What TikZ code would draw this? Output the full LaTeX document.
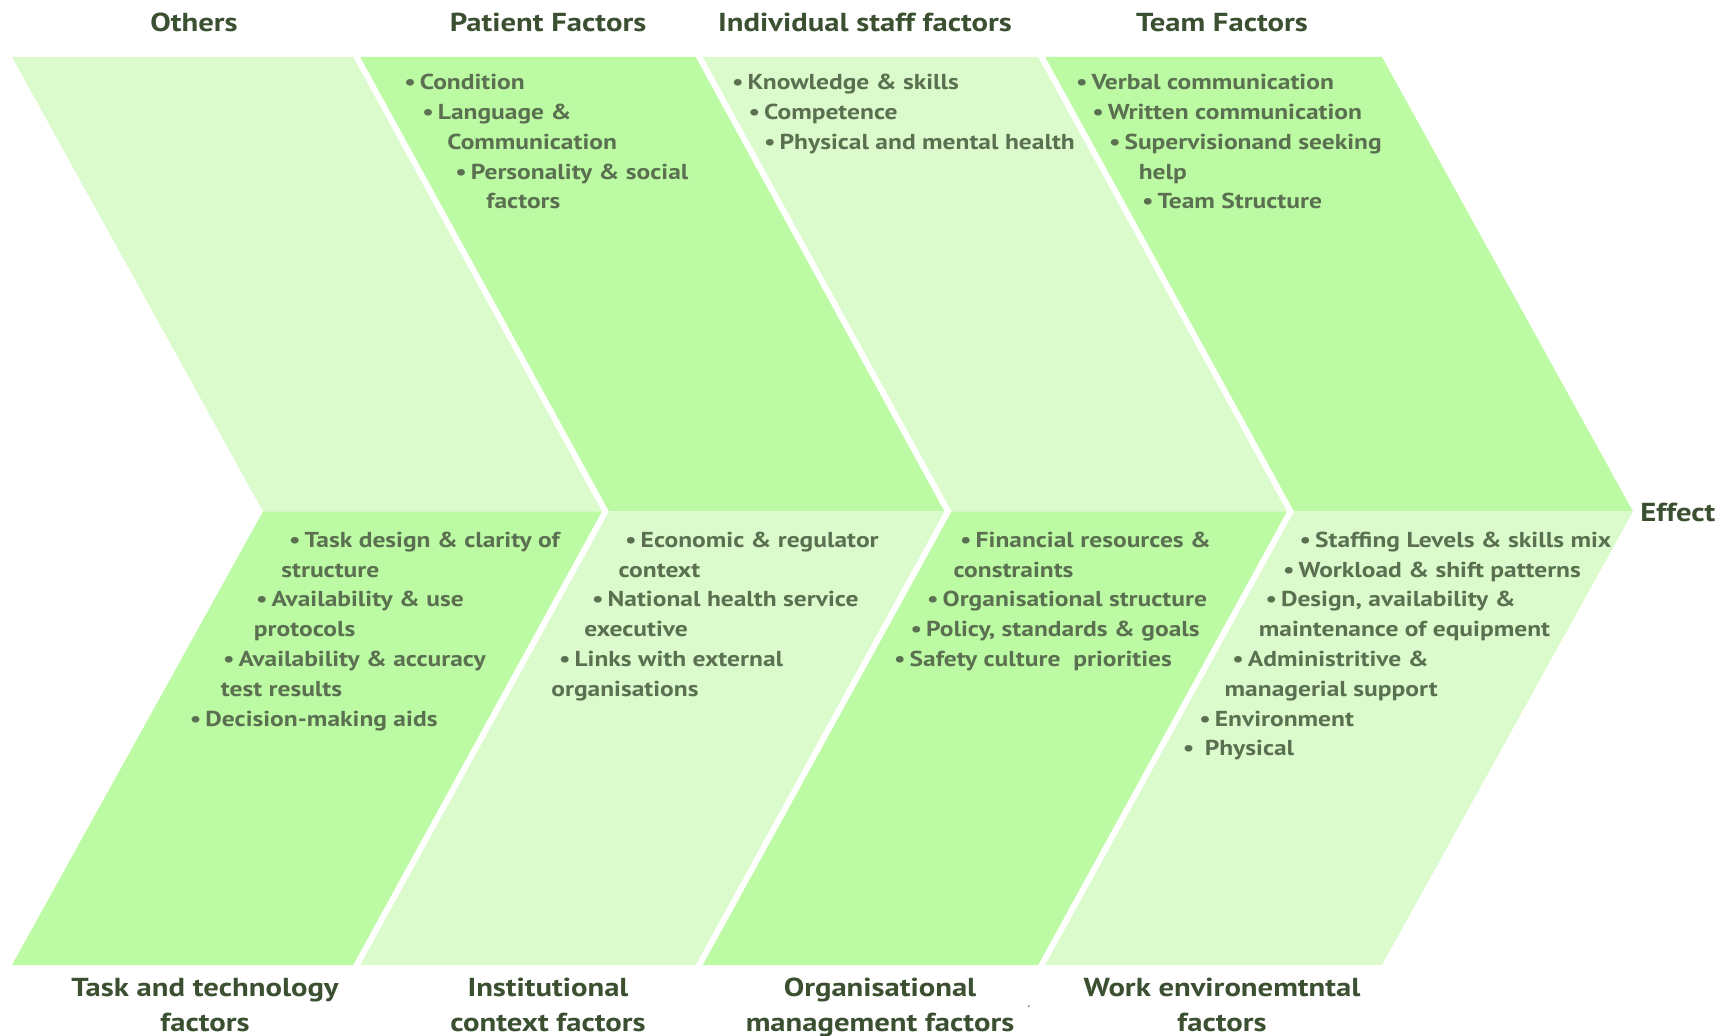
\documentclass[tikz,border=0pt]{standalone}
\usepackage{fontspec}
\setmainfont[FakeStretch=1.18]{PT Sans}
\definecolor{lightg}{RGB}{220,251,204}
\definecolor{darkg}{RGB}{188,250,163}
\definecolor{txt}{RGB}{90,112,80}
\definecolor{head}{RGB}{58,80,48}
\newcommand{\bul}{•\hspace{2pt}}
\begin{document}
\begin{tikzpicture}[x=0.5pt,y=-0.5pt,
  item/.style={anchor=base west, inner sep=0pt, font=\bfseries\fontsize{10.8}{13}\selectfont, text=txt},
  heading/.style={anchor=base, inner sep=0pt, font=\bfseries\fontsize{13}{17}\selectfont, text=head},
  botlabel/.style={anchor=base, inner sep=0pt, align=center, font=\bfseries\fontsize{13}{17}\selectfont, text=head},
  sep/.style={draw=white, line width=3pt, line join=miter}]
\useasboundingbox (0,0) rectangle (1728,1036);
% shapes
\def\yT{57}\def\yM{511.5}\def\yB{965}\def\dd{251}\def\ww{342.5}
\foreach \k/\ct/\cb in {0/lightg/darkg,1/darkg/lightg,2/lightg/darkg,3/darkg/lightg}{
  \pgfmathsetmacro\xl{12+\ww*\k}
  \fill[\ct] (\xl,\yT) -- ++(\ww,0) -- ++(\dd,\yM-\yT) -- ++(-\ww,0) -- cycle;
  \fill[\cb] (\xl+\dd,\yM) -- ++(\ww,0) -- ++(-\dd,\yB-\yM) -- ++(-\ww,0) -- cycle;
}
\foreach \k in {1,2,3}{
  \pgfmathsetmacro\xl{12+\ww*\k}
  \draw[sep] (\xl,\yT-4) -- (\xl+\dd,\yM) -- (\xl,\yB+4);
}
% headings
\node[heading] (hOthers) at (194,31.7) {Others};
\node[heading] (hPatient) at (548,31.7) {Patient Factors};
\node[heading] (hIndiv) at (865,31.7) {Individual staff factors};
\node[heading] (hTeam) at (1222,31.7) {Team Factors};
\node[heading, anchor=base west] (hEffect) at (1640,521.7) {Effect};
\node[botlabel] (bTask) at (205,1031) {Task and technology\\[0.3pt]factors};
\node[botlabel] (bInst) at (548,1031) {Institutional\\[0.3pt]context factors};
\node[botlabel] (bOrg) at (880,1031) {Organisational\\[0.3pt]management factors};
\node[botlabel] (bWork) at (1222,1031) {Work environemtntal\\[0.3pt]factors};
\node[inner sep=0pt, font=\fontsize{6}{6}\selectfont, text=head] (mark) at (1029,1010) {´};
% patient
\node[item] (p1) at (404,90) {\bul Condition};
\node[item] (p2) at (422,119.75) {\bul Language \&};
\node[item] (p3) at (447,149.5) {Communication};
\node[item] (p4) at (455,179.25) {\bul Personality \& social};
\node[item] (p5) at (486,209) {factors};
% individual
\node[item] (i1) at (731.7,90) {\bul Knowledge \& skills};
\node[item] (i2) at (748.3,119.75) {\bul Competence};
\node[item] (i3) at (763.7,149.5) {\bul Physical and mental health};
% team
\node[item] (t1) at (1075.6,90) {\bul Verbal communication};
\node[item] (t2) at (1092,119.75) {\bul Written communication};
\node[item] (t3) at (1108.6,149.5) {\bul Supervisionand seeking};
\node[item] (t4) at (1138.4,179.25) {help};
\node[item] (t5) at (1141.7,209) {\bul Team Structure};
% task
\node[item] (k1) at (288.7,547.5) {\bul Task design \& clarity of};
\node[item] (k2) at (281,577.25) {structure};
\node[item] (k3) at (255.7,607) {\bul Availability \& use};
\node[item] (k4) at (253.5,636.75) {protocols};
\node[item] (k5) at (222.6,666.5) {\bul Availability \& accuracy};
\node[item] (k6) at (220.4,696.25) {test results};
\node[item] (k7) at (189.5,726) {\bul Decision-making aids};
% institutional
\node[item] (n1) at (624.8,547.5) {\bul Economic \& regulator};
\node[item] (n2) at (618.2,577.25) {context};
\node[item] (n3) at (591.8,607) {\bul National health service};
\node[item] (n4) at (584,636.75) {executive};
\node[item] (n5) at (558.7,666.5) {\bul Links with external};
\node[item] (n6) at (551,696.25) {organisations};
% organisational
\node[item] (o1) at (959.8,547.5) {\bul Financial resources \&};
\node[item] (o2) at (953.2,577.25) {constraints};
\node[item] (o3) at (926.8,607) {\bul Organisational structure};
\node[item] (o4) at (910.3,636.75) {\bul Policy, standards \& goals};
\node[item] (o5) at (893.7,666.5) {\bul Safety culture\ \ priorities};
% work environment
\node[item] (w1) at (1299.3,547.5) {\bul Staffing Levels \& skills mix};
\node[item] (w2) at (1282.7,577.25) {\bul Workload \& shift patterns};
\node[item] (w3) at (1265.1,607) {\bul Design, availability \&};
\node[item] (w4) at (1258.5,636.75) {maintenance of equipment};
\node[item] (w5) at (1232,666.5) {\bul Administritive \&};
\node[item] (w6) at (1224.3,696.25) {managerial support};
\node[item] (w7) at (1199,726) {\bul Environment};
\node[item] (w8) at (1182.4,755.75) {\bul\ Physical};
\end{tikzpicture}
\end{document}
